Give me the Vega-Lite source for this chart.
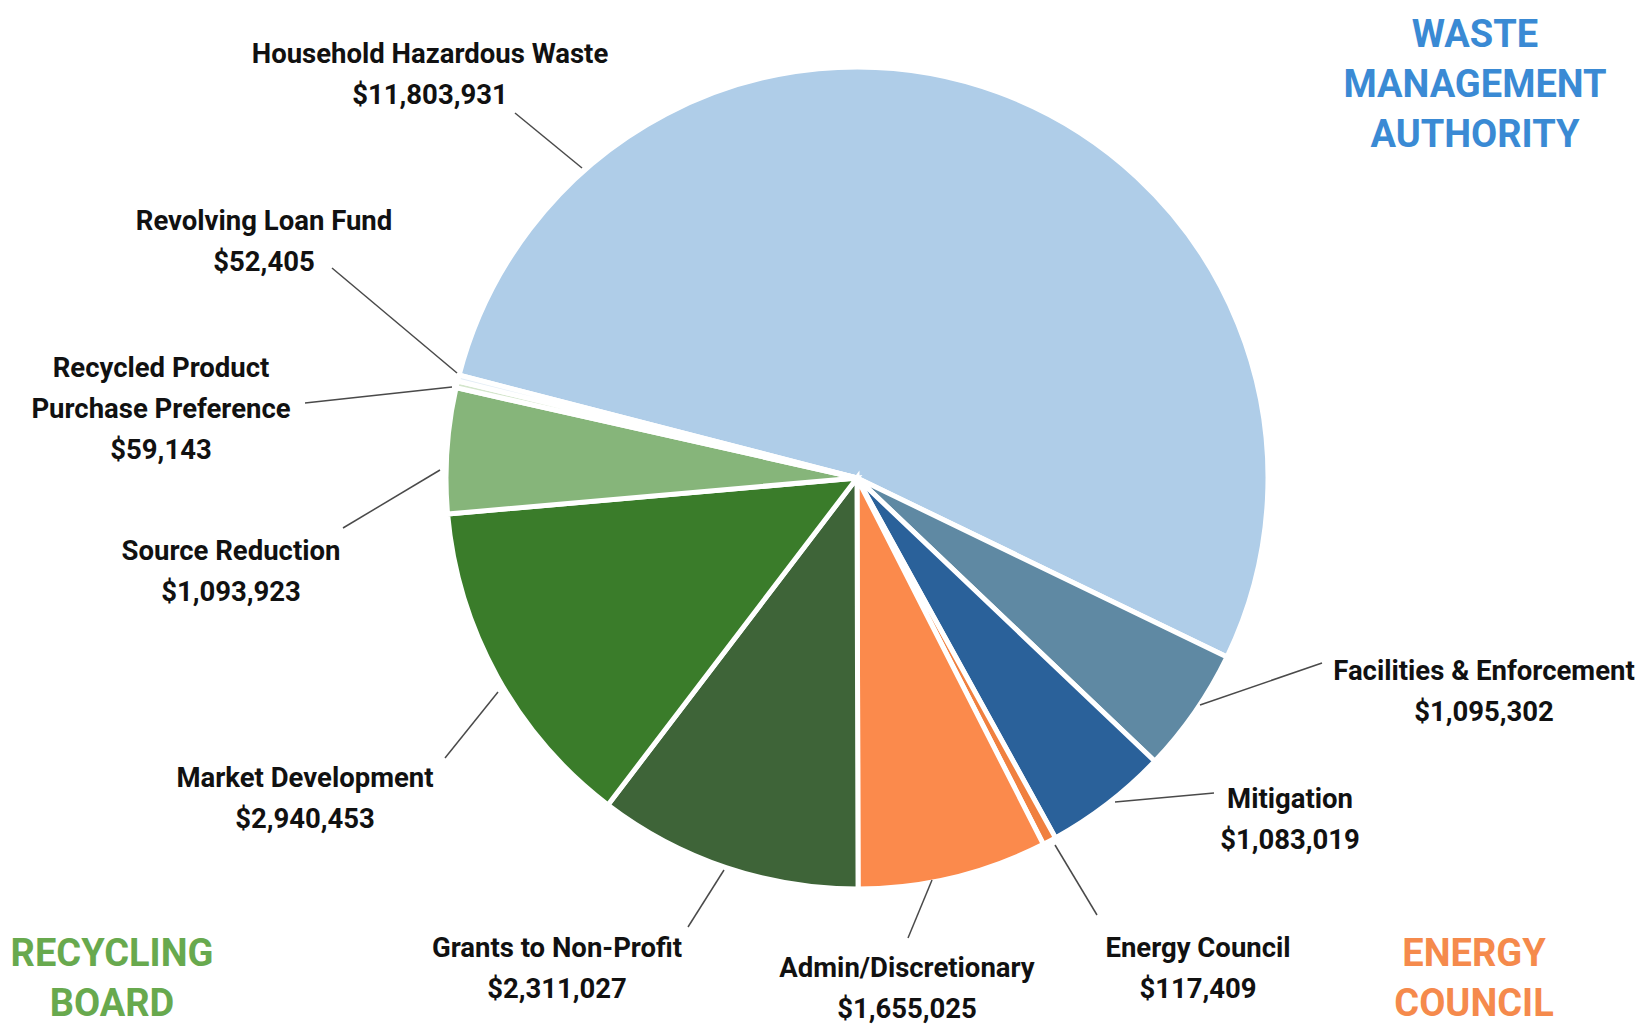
{
  "$schema": "https://vega.github.io/schema/vega-lite/v6.json",
  "width": 1647,
  "height": 1025,
  "autosize": {"type": "none"},
  "padding": 0,
  "background": "white",
  "config": {"view": {"stroke": null}},
  "datasets": {
    "slices": [
      {"name": "Household Hazardous Waste", "amount": 11803931, "ord": 1},
      {"name": "Facilities & Enforcement", "amount": 1095302, "ord": 2},
      {"name": "Mitigation", "amount": 1083019, "ord": 3},
      {"name": "Energy Council", "amount": 117409, "ord": 4},
      {"name": "Admin/Discretionary", "amount": 1655025, "ord": 5},
      {"name": "Grants to Non-Profit", "amount": 2311027, "ord": 6},
      {"name": "Market Development", "amount": 2940453, "ord": 7},
      {"name": "Source Reduction", "amount": 1093923, "ord": 8},
      {"name": "Recycled Product Purchase Preference", "amount": 59143, "ord": 9},
      {"name": "Revolving Loan Fund", "amount": 52405, "ord": 10}
    ],
    "leaders": [
      {"name": "Household Hazardous Waste", "lx": 515, "ly": 113, "lx2": 582, "ly2": 168},
      {"name": "Revolving Loan Fund", "lx": 332, "ly": 268, "lx2": 457, "ly2": 373},
      {"name": "Recycled Product Purchase Preference", "lx": 305, "ly": 403, "lx2": 452, "ly2": 387},
      {"name": "Source Reduction", "lx": 343, "ly": 528, "lx2": 440, "ly2": 470},
      {"name": "Market Development", "lx": 445, "ly": 758, "lx2": 498, "ly2": 692},
      {"name": "Grants to Non-Profit", "lx": 688, "ly": 927, "lx2": 724, "ly2": 870},
      {"name": "Admin/Discretionary", "lx": 908, "ly": 938, "lx2": 932, "ly2": 880},
      {"name": "Energy Council", "lx": 1055, "ly": 845, "lx2": 1097, "ly2": 915},
      {"name": "Mitigation", "lx": 1115, "ly": 802, "lx2": 1214, "ly2": 793},
      {"name": "Facilities & Enforcement", "lx": 1200, "ly": 705, "lx2": 1322, "ly2": 663}
    ],
    "labels": [
      {"text": "Household Hazardous Waste\n$11,803,931", "tx": 430, "ty": 63},
      {"text": "Revolving Loan Fund\n$52,405", "tx": 264, "ty": 230},
      {"text": "Recycled Product\nPurchase Preference\n$59,143", "tx": 161, "ty": 377},
      {"text": "Source Reduction\n$1,093,923", "tx": 231, "ty": 560},
      {"text": "Market Development\n$2,940,453", "tx": 305, "ty": 787},
      {"text": "Grants to Non-Profit\n$2,311,027", "tx": 557, "ty": 957},
      {"text": "Admin/Discretionary\n$1,655,025", "tx": 907, "ty": 977},
      {"text": "Energy Council\n$117,409", "tx": 1198, "ty": 957},
      {"text": "Mitigation\n$1,083,019", "tx": 1290, "ty": 808},
      {"text": "Facilities & Enforcement\n$1,095,302", "tx": 1484, "ty": 680}
    ],
    "titles": [
      {"text": "WASTE\nMANAGEMENT\nAUTHORITY", "group": "Waste Management Authority", "tx": 1475, "ty": 47},
      {"text": "RECYCLING\nBOARD", "group": "Recycling Board", "tx": 112, "ty": 966},
      {"text": "ENERGY\nCOUNCIL", "group": "Energy Council", "tx": 1474, "ty": 966}
    ]
  },
  "resolve": {"scale": {"color": "independent"}},
  "layer": [
    {
      "data": {"name": "slices"},
      "mark": {"type": "arc", "outerRadius": 411, "stroke": "white", "strokeWidth": 5},
      "encoding": {
        "theta": {"field": "amount", "type": "quantitative", "stack": true, "scale": {"range": [4.9655, 11.2487]}},
        "order": {"field": "ord", "type": "quantitative"},
        "color": {
          "field": "name", "type": "nominal", "legend": null,
          "scale": {
            "domain": ["Household Hazardous Waste", "Facilities & Enforcement", "Mitigation", "Energy Council", "Admin/Discretionary", "Grants to Non-Profit", "Market Development", "Source Reduction", "Recycled Product Purchase Preference", "Revolving Loan Fund"],
            "range": ["#afcde8", "#5f89a3", "#2a619a", "#f0803f", "#fb8a4c", "#3e6438", "#3a7c2a", "#86b57a", "#d4e6cc", "#e3edf6"]
          }
        },
        "x": {"datum": 857, "type": "quantitative", "scale": {"domain": [0, 1647], "nice": false, "zero": false}, "axis": null},
        "y": {"datum": 478, "type": "quantitative", "scale": {"domain": [0, 1025], "nice": false, "zero": false, "reverse": true}, "axis": null}
      }
    },
    {
      "data": {"name": "leaders"},
      "mark": {"type": "rule", "color": "#4a4a4a", "strokeWidth": 1.5},
      "encoding": {
        "x": {"field": "lx", "type": "quantitative", "scale": {"domain": [0, 1647], "nice": false, "zero": false}, "axis": null},
        "y": {"field": "ly", "type": "quantitative", "scale": {"domain": [0, 1025], "nice": false, "zero": false, "reverse": true}, "axis": null},
        "x2": {"field": "lx2"},
        "y2": {"field": "ly2"}
      }
    },
    {
      "data": {"name": "labels"},
      "mark": {"type": "text", "font": "Roboto, sans-serif", "fontWeight": "bold", "fontSize": 27.5, "align": "center", "baseline": "alphabetic", "lineBreak": "\n", "lineHeight": 41, "color": "#111111"},
      "encoding": {
        "x": {"field": "tx", "type": "quantitative", "scale": {"domain": [0, 1647], "nice": false, "zero": false}, "axis": null},
        "y": {"field": "ty", "type": "quantitative", "scale": {"domain": [0, 1025], "nice": false, "zero": false, "reverse": true}, "axis": null},
        "text": {"field": "text", "type": "nominal"}
      }
    },
    {
      "data": {"name": "titles"},
      "mark": {"type": "text", "font": "Roboto, sans-serif", "fontWeight": "bold", "fontSize": 38, "align": "center", "baseline": "alphabetic", "lineBreak": "\n", "lineHeight": 50},
      "encoding": {
        "x": {"field": "tx", "type": "quantitative", "scale": {"domain": [0, 1647], "nice": false, "zero": false}, "axis": null},
        "y": {"field": "ty", "type": "quantitative", "scale": {"domain": [0, 1025], "nice": false, "zero": false, "reverse": true}, "axis": null},
        "text": {"field": "text", "type": "nominal"},
        "color": {
          "field": "group", "type": "nominal", "legend": null,
          "scale": {"domain": ["Waste Management Authority", "Recycling Board", "Energy Council"], "range": ["#3a8ad4", "#68a94e", "#f58a4c"]}
        }
      }
    }
  ]
}
